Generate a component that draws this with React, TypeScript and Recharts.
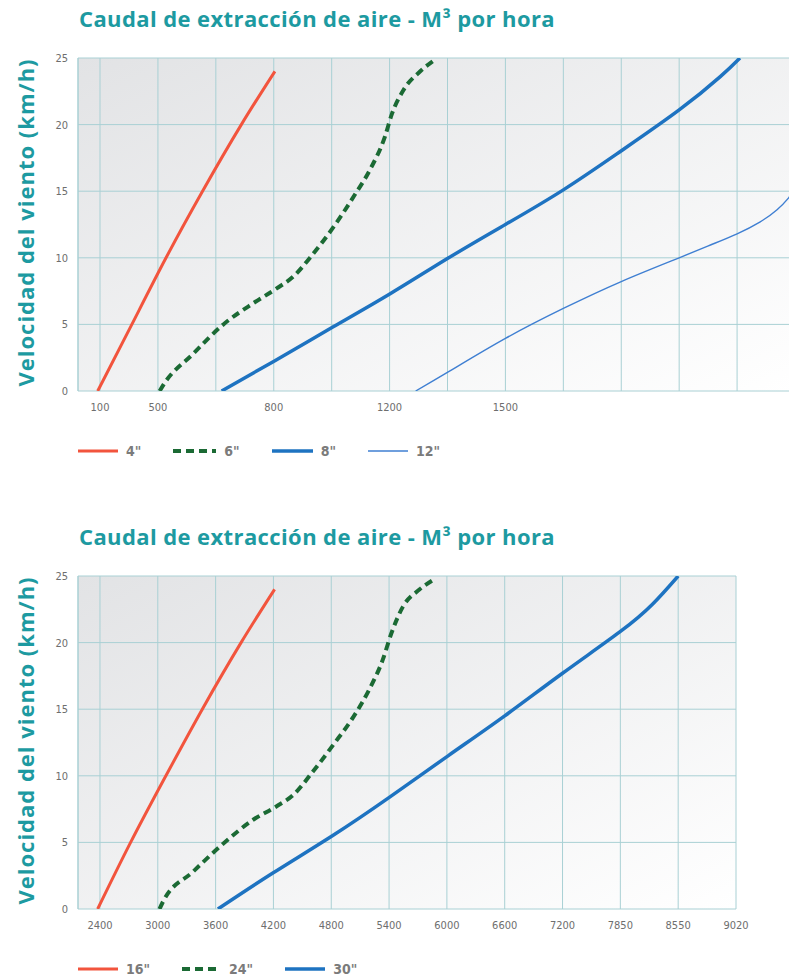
import React from "react";
import { LineChart, Line, XAxis, YAxis, CartesianGrid, Label } from "recharts";

// ---------- text ----------
const TITLE = "Caudal de extracción de aire - M³ por hora";
const Y_LABEL = "Velocidad del viento (km/h)";

// ---------- axes ----------
const yTicks = [0, 5, 10, 15, 20, 25];
// x positions are grid-column indices (the printed scale is not linear)
const topXTicks = [0, 1, 2, 3, 4, 5, 6, 7, 8, 9, 10, 11, 12];
const topXLabels = ["100", "500", "", "800", "", "1200", "", "1500", "", "", "", "", ""];
const bottomXTicks = [0, 1, 2, 3, 4, 5, 6, 7, 8, 9, 10, 11];
const bottomXLabels = ["2400", "3000", "3600", "4200", "4800", "5400", "6000", "6600", "7200", "7850", "8550", "9020"];

// ---------- series (x = grid position, y = km/h) ----------
const data4 = [
  { x: -0.04, y: 0 }, { x: 0.55, y: 5 }, { x: 1.14, y: 10 },
  { x: 1.77, y: 15 }, { x: 2.44, y: 20 }, { x: 3.02, y: 24.0 },
];
const data6 = [
  { x: 1.03, y: 0 }, { x: 1.1, y: 0.5 }, { x: 1.61, y: 2.8 }, { x: 2.13, y: 5.0 }, { x: 2.65, y: 6.6 },
  { x: 3.05, y: 7.7 }, { x: 3.34, y: 8.6 }, { x: 3.68, y: 10.3 }, { x: 4.03, y: 12.3 },
  { x: 4.38, y: 14.6 }, { x: 4.66, y: 16.6 }, { x: 4.92, y: 19.1 }, { x: 5.04, y: 20.8 },
  { x: 5.24, y: 22.6 }, { x: 5.53, y: 24.0 }, { x: 5.76, y: 24.8 },
];
const data8 = [
  { x: 2.1, y: 0 }, { x: 2.99, y: 2.2 }, { x: 4.02, y: 4.8 }, { x: 5.01, y: 7.3 },
  { x: 6.02, y: 10.0 }, { x: 7.0, y: 12.5 }, { x: 8.0, y: 15.1 }, { x: 8.99, y: 18.0 },
  { x: 10.0, y: 21.1 }, { x: 10.71, y: 23.6 }, { x: 11.05, y: 25.0 },
];
const data12 = [
  { x: 5.45, y: 0 }, { x: 6.02, y: 1.45 }, { x: 7.0, y: 3.95 }, { x: 8.0, y: 6.2 },
  { x: 8.99, y: 8.2 }, { x: 10.0, y: 10.0 }, { x: 10.54, y: 10.96 }, { x: 11.0, y: 11.8 },
  { x: 11.4, y: 12.7 }, { x: 11.69, y: 13.6 }, { x: 11.89, y: 14.5 }, { x: 12.0, y: 15.1 },
];
const data16 = [
  { x: -0.04, y: 0 }, { x: 0.53, y: 5 }, { x: 1.14, y: 10 },
  { x: 1.77, y: 15 }, { x: 2.44, y: 20 }, { x: 3.02, y: 24.0 },
];
const data24 = [
  { x: 1.03, y: 0 }, { x: 1.09, y: 0.55 }, { x: 1.61, y: 2.8 }, { x: 2.13, y: 4.9 }, { x: 2.65, y: 6.7 },
  { x: 3.05, y: 7.7 }, { x: 3.34, y: 8.55 }, { x: 3.68, y: 10.3 }, { x: 4.03, y: 12.3 },
  { x: 4.38, y: 14.4 }, { x: 4.66, y: 16.5 }, { x: 4.89, y: 18.7 }, { x: 5.04, y: 20.7 },
  { x: 5.24, y: 22.7 }, { x: 5.53, y: 24.0 }, { x: 5.76, y: 24.7 },
];
const data30 = [
  { x: 2.04, y: 0 }, { x: 2.99, y: 2.7 }, { x: 4.02, y: 5.5 }, { x: 5.01, y: 8.4 },
  { x: 6.02, y: 11.5 }, { x: 7.0, y: 14.5 }, { x: 8.0, y: 17.7 }, { x: 8.99, y: 20.8 },
  { x: 9.56, y: 22.9 }, { x: 10.0, y: 25.0 },
];

// ---------- styles ----------
const TEAL = "#1d9aa1";
const GRID = "#a9d0d4";
const TICK = "#6e6e6e";
const RED = "#f2543d";
const GREEN = "#1b6a34";
const BLUE = "#1e73c1";
const BLUE_THIN = "#3f7fd2";
const NARROW = "'Liberation Sans Narrow', 'DejaVu Sans Condensed', 'Roboto', sans-serif";
const TITLE_FONT = "'Open Sans', 'Noto Sans', sans-serif";

type Series = {
  name: string;
  data: { x: number; y: number }[];
  color: string;
  width: number;
  dash?: string;
  legendW: number;
  curve: "natural" | "monotone";
};

const topSeries: Series[] = [
  { name: '4"', data: data4, color: RED, width: 3, legendW: 40, curve: "natural" },
  { name: '6"', data: data6, color: GREEN, width: 4, dash: "8 5", legendW: 43, curve: "monotone" },
  { name: '8"', data: data8, color: BLUE, width: 3.5, legendW: 41, curve: "natural" },
  { name: '12"', data: data12, color: BLUE_THIN, width: 1.4, legendW: 40, curve: "natural" },
];
const bottomSeries: Series[] = [
  { name: '16"', data: data16, color: RED, width: 3, legendW: 40, curve: "natural" },
  { name: '24"', data: data24, color: GREEN, width: 4, dash: "8 5", legendW: 39, curve: "monotone" },
  { name: '30"', data: data30, color: BLUE, width: 3.5, legendW: 40, curve: "natural" },
];

function YTitle(props: any) {
  const vb = props.viewBox || { x: 18, y: 58, width: 60, height: 333 };
  const cx = 25;
  const cy = vb.y + vb.height / 2 - 2;
  return (
    <text
      x={cx}
      y={cy}
      transform={`rotate(-90, ${cx}, ${cy})`}
      textAnchor="middle"
      dominantBaseline="central"
      fill={TEAL}
      style={{ fontFamily: TITLE_FONT, fontWeight: 700, fontSize: 22, letterSpacing: 1 }}
    >
      {Y_LABEL}
    </text>
  );
}

function Panel(props: {
  id: string;
  top: number;
  series: Series[];
  ticks: number[];
  labels: string[];
  xMax: number;
  width: number;
  right: number;
}) {
  const { id, top, series, ticks, labels, xMax, width, right } = props;
  return (
    <div style={{ position: "absolute", left: 0, top, width: 789, height: 500 }}>
      <div style={{ position: "absolute", left: 0, top: 0 }}>
        <LineChart width={width} height={420} margin={{ top: 58, right, bottom: 9, left: 18 }}>
          <defs>
            <linearGradient id={`bg-${id}`} x1="0" y1="0" x2="1" y2="1">
              <stop offset="0%" stopColor="#e2e3e5" />
              <stop offset="100%" stopColor="#ffffff" />
            </linearGradient>
          </defs>
          <CartesianGrid stroke={GRID} strokeWidth={1} fill={`url(#bg-${id})`} fillOpacity={1} />
          <XAxis
            type="number"
            dataKey="x"
            domain={[-0.38, xMax]}
            allowDataOverflow
            ticks={ticks}
            interval={0}
            tickFormatter={(v: number) => labels[Math.round(v)] ?? ""}
            axisLine={false}
            tickLine={false}
            tickSize={0}
            tickMargin={12}
            height={20}
            tick={{ fill: TICK, fontSize: 11, fontFamily: NARROW }}
          />
          <YAxis
            type="number"
            domain={[0, 25]}
            allowDataOverflow
            ticks={yTicks}
            interval={0}
            width={60}
            axisLine={{ stroke: GRID }}
            tickLine={false}
            tickSize={0}
            tickMargin={10}
            tick={{ fill: TICK, fontSize: 11, fontFamily: NARROW }}
          >
            <Label content={<YTitle />} />
          </YAxis>
          {series.map((s) => (
            <Line
              key={s.name}
              name={s.name}
              data={s.data}
              dataKey="y"
              type={s.curve}
              stroke={s.color}
              strokeWidth={s.width}
              strokeDasharray={s.dash}
              dot={false}
              activeDot={false}
              isAnimationActive={false}
            />
          ))}
        </LineChart>
      </div>
      <div
        style={{
          position: "absolute",
          left: 79,
          top: 5,
          color: TEAL,
          fontFamily: TITLE_FONT,
          fontWeight: 700,
          fontSize: 22,
          letterSpacing: 0.4,
          lineHeight: "26px",
          whiteSpace: "nowrap",
        }}
      >
        {TITLE}
      </div>
      <div
        style={{
          position: "absolute",
          left: 78,
          top: 442,
          height: 18,
          display: "flex",
          alignItems: "center",
          gap: 32,
        }}
      >
        {series.map((s) => (
          <div key={s.name} style={{ display: "flex", alignItems: "center" }}>
            <svg width={s.legendW} height={10}>
              <line
                x1={0}
                y1={5}
                x2={s.legendW}
                y2={5}
                stroke={s.color}
                strokeWidth={s.width}
                strokeDasharray={s.dash}
              />
            </svg>
            <span
              style={{
                marginLeft: 8,
                color: "#7b7b7b",
                fontFamily: NARROW,
                fontWeight: 700,
                fontSize: 14,
              }}
            >
              {s.name}
            </span>
          </div>
        ))}
      </div>
    </div>
  );
}

export default function App() {
  return (
    <div
      style={{
        position: "absolute",
        left: 0,
        top: 0,
        width: 789,
        height: 980,
        overflow: "hidden",
        background: "#ffffff",
      }}
    >
      <Panel id="top" top={0} series={topSeries} ticks={topXTicks} labels={topXLabels} xMax={12} width={800} right={5} />
      <Panel id="bottom" top={518} series={bottomSeries} ticks={bottomXTicks} labels={bottomXLabels} xMax={11} width={760} right={24} />
    </div>
  );
}
